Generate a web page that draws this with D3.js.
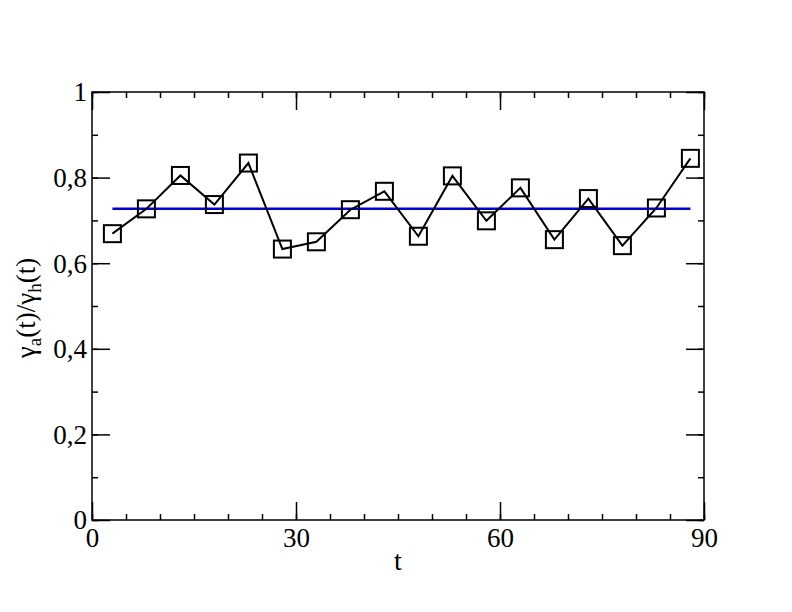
<!DOCTYPE html>
<html>
<head>
<meta charset="utf-8">
<script src="https://cdn.jsdelivr.net/npm/d3@7"></script>
<style>
  html, body { margin: 0; padding: 0; background: #fff; }
  svg { display: block; }
</style>
</head>
<body>
<script>
// ---- data ----
const tValues = [3, 8, 13, 18, 23, 28, 33, 38, 43, 48, 53, 58, 63, 68, 73, 78, 83, 88];
const ratioValues = [0.669, 0.727, 0.805, 0.737, 0.834, 0.633, 0.650, 0.725, 0.768,
                     0.663, 0.804, 0.699, 0.776, 0.655, 0.751, 0.641, 0.729, 0.845];
const meanLineT = [3, 88];
const meanValue = 0.727;
const xMajorTicks = [0, 30, 60, 90];
const xMinorTicks = d3.range(0, 91, 5);
const yMajorTicks = [0, 0.2, 0.4, 0.6, 0.8, 1];
const yMinorTicks = d3.range(0, 1.001, 0.1);
const xDomain = [0, 90];
const yDomain = [0, 1];

// ---- layout ----
const W = 792, H = 612;
const pLeft = 92, pRight = 704, pTop = 92, pBottom = 520;
const SERIF = "'Liberation Serif', 'Times New Roman', 'DejaVu Serif', serif";

const svg = d3.select("body").append("svg").attr("width", W).attr("height", H)
  .style("font-family", SERIF);

const x = d3.scaleLinear().domain(xDomain).range([pLeft, pRight]);
const y = d3.scaleLinear().domain(yDomain).range([pBottom, pTop]);

const fmtY = d => d === 0 ? "0" : d === 1 ? "1" : d3.format(".1f")(d).replace(".", ",");
const MAJ = 18, MIN = 6;

function styleAxis(g) {
  g.attr("font-family", null);
  g.select(".domain").remove();
  g.selectAll(".tick line").attr("stroke", "#000").attr("stroke-width", 1.5);
  g.selectAll(".tick text").style("font-family", SERIF).attr("fill", "#000");
}

// bottom axis
svg.append("g").attr("transform", `translate(0,${pBottom})`)
  .call(d3.axisBottom(x).tickValues(xMinorTicks).tickSize(-MIN).tickFormat(""))
  .call(styleAxis);
svg.append("g").attr("transform", `translate(0,${pBottom})`)
  .call(d3.axisBottom(x).tickValues(xMajorTicks).tickSize(-MAJ).tickPadding(0).tickFormat(d3.format("d")))
  .call(styleAxis)
  .call(g => g.selectAll(".tick text").attr("font-size", 27).attr("dy", null).attr("y", 27));
// top axis
svg.append("g").attr("transform", `translate(0,${pTop})`)
  .call(d3.axisTop(x).tickValues(xMinorTicks).tickSize(-MIN).tickFormat(""))
  .call(styleAxis);
svg.append("g").attr("transform", `translate(0,${pTop})`)
  .call(d3.axisTop(x).tickValues(xMajorTicks).tickSize(-MAJ).tickFormat(""))
  .call(styleAxis);
// left axis
svg.append("g").attr("transform", `translate(${pLeft},0)`)
  .call(d3.axisLeft(y).tickValues(yMinorTicks).tickSize(-MIN).tickFormat(""))
  .call(styleAxis);
svg.append("g").attr("transform", `translate(${pLeft},0)`)
  .call(d3.axisLeft(y).tickValues(yMajorTicks).tickSize(-MAJ).tickFormat(fmtY))
  .call(styleAxis)
  .call(g => g.selectAll(".tick text").attr("font-size", 27).attr("x", -5).attr("dy", "0.33em"));
// right axis
svg.append("g").attr("transform", `translate(${pRight},0)`)
  .call(d3.axisRight(y).tickValues(yMinorTicks).tickSize(-MIN).tickFormat(""))
  .call(styleAxis);
svg.append("g").attr("transform", `translate(${pRight},0)`)
  .call(d3.axisRight(y).tickValues(yMajorTicks).tickSize(-MAJ).tickFormat(""))
  .call(styleAxis);

// frame
svg.append("rect").attr("x", pLeft).attr("y", pTop)
  .attr("width", pRight - pLeft).attr("height", pBottom - pTop)
  .attr("fill", "none").attr("stroke", "#000").attr("stroke-width", 1.5);

// mean line (blue)
svg.append("path")
  .datum(meanLineT.map(t => [t, meanValue]))
  .attr("d", d3.line().x(d => x(d[0])).y(d => y(d[1])))
  .attr("fill", "none").attr("stroke", "#0000d0").attr("stroke-width", 2.5);

// data line
const pts = tValues.map((t, i) => [t, ratioValues[i]]);
svg.append("path").datum(pts)
  .attr("d", d3.line().x(d => x(d[0])).y(d => y(d[1])))
  .attr("fill", "none").attr("stroke", "#000").attr("stroke-width", 2);

// square markers
const S = 17;
svg.append("g").selectAll("rect").data(pts).join("rect")
  .attr("x", d => x(d[0]) - S / 2).attr("y", d => y(d[1]) - S / 2)
  .attr("width", S).attr("height", S)
  .attr("fill", "none").attr("stroke", "#000").attr("stroke-width", 2);

// axis labels
svg.append("text").attr("x", (pLeft + pRight) / 2).attr("y", 570)
  .attr("text-anchor", "middle").attr("font-size", 28).style("font-family", SERIF).text("t");

const yl = svg.append("text")
  .attr("transform", `translate(35,${(pTop + pBottom) / 2 + 2}) rotate(-90)`)
  .attr("text-anchor", "middle").attr("font-size", 27).style("font-family", SERIF);
yl.append("tspan").text("γ");
yl.append("tspan").attr("font-size", 19).attr("dy", 6).text("a");
yl.append("tspan").attr("dy", -6).text("(t)/γ");
yl.append("tspan").attr("font-size", 19).attr("dy", 6).text("h");
yl.append("tspan").attr("dy", -6).text("(t)");
</script>
</body>
</html>
